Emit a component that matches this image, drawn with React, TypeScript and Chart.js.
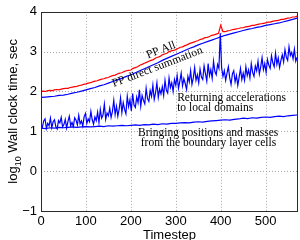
import { useEffect, useRef } from "react";
import { Chart, registerables } from "chart.js";

Chart.register(...registerables);

const xTicks = [0, 100, 200, 300, 400, 500];
const yTicks = [-1, 0, 1, 2, 3, 4];

// PP All (red), sampled every 5 timesteps
const ppAllStep = 5;
const ppAll = [
  2.0, 2.01, 2.0, 2.02, 2.03, 2.02, 2.04, 2.05, 2.04, 2.06,
  2.07, 2.08, 2.08, 2.1, 2.11, 2.12, 2.13, 2.15, 2.16, 2.18,
  2.19, 2.21, 2.22, 2.24, 2.26, 2.27, 2.29, 2.31, 2.32, 2.34,
  2.35, 2.38, 2.4, 2.41, 2.44, 2.46, 2.47, 2.5, 2.52, 2.53,
  2.54, 2.58, 2.6, 2.62, 2.66, 2.68, 2.71, 2.73, 2.76, 2.78,
  2.8, 2.84, 2.86, 2.88, 2.92, 2.94, 2.96, 3.0, 3.02, 3.03,
  3.05, 3.08, 3.11, 3.12, 3.15, 3.17, 3.2, 3.22, 3.24, 3.26,
  3.28, 3.31, 3.32, 3.35, 3.36, 3.38, 3.41, 3.42, 3.44, 3.46,
  3.66, 3.5, 3.5, 3.52, 3.53, 3.55, 3.56, 3.57, 3.58, 3.6,
  3.6, 3.62, 3.63, 3.64, 3.66, 3.66, 3.68, 3.69, 3.7, 3.71,
  3.72, 3.74, 3.74, 3.76, 3.77, 3.78, 3.79, 3.81, 3.81, 3.83,
  3.84, 3.85, 3.87, 3.87, 3.89,
];

// PP direct summation (blue), every 10 timesteps
const ppDirectStep = 10;
const ppDirect = [
  1.85, 1.86, 1.87, 1.88, 1.9, 1.91, 1.93, 1.96, 1.98, 2.01,
  2.04, 2.07, 2.1, 2.14, 2.17, 2.21, 2.25, 2.29, 2.33, 2.38,
  2.42, 2.47, 2.52, 2.57, 2.62, 2.67, 2.72, 2.78, 2.83, 2.88,
  2.93, 2.98, 3.03, 3.08, 3.12, 3.17, 3.21, 3.25, 3.29, 3.33,
  3.37, 3.41, 3.44, 3.47, 3.5, 3.53, 3.56, 3.58, 3.61, 3.63,
  3.66, 3.68, 3.7, 3.72, 3.75, 3.78, 3.81, 3.84,
];

// Returning accelerations to local domains (blue, noisy), every 3 timesteps
const returningStep = 3;
const returning = [
  1.18, 1.1, 1.26, 1.31, 1.07, 1.2, 1.14, 1.33, 1.09, 1.24,
  1.29, 1.12, 1.06, 1.27, 1.21, 1.35, 1.11, 1.17, 1.3, 1.08,
  1.25, 1.38, 1.14, 1.22, 1.12, 1.34, 1.28, 1.16, 1.4, 1.19,
  1.26, 1.13, 1.37, 1.45, 1.2, 1.31, 1.24, 1.5, 1.29, 1.18,
  1.36, 1.27, 1.48, 1.22, 1.55, 1.33, 1.41, 1.68, 1.3, 1.46,
  1.39, 1.58, 1.35, 1.5, 1.78, 1.42, 1.63, 1.38, 1.56, 1.84,
  1.47, 1.72, 1.55, 1.44, 1.88, 1.62, 1.79, 1.51, 1.95, 1.66,
  1.6, 1.86, 1.72, 2.04, 1.63, 1.9, 1.78, 1.69, 2.08, 1.82,
  1.75, 2.02, 1.88, 2.16, 1.8, 1.97, 2.22, 1.85, 2.06, 1.94,
  2.12, 1.9, 2.28, 2.03, 1.96, 2.34, 2.1, 2.22, 2.0, 2.3,
  2.16, 2.4, 2.08, 2.26, 2.46, 2.14, 2.32, 2.2, 2.05, 2.38,
  2.24, 2.52, 2.18, 2.34, 2.6, 2.28, 2.42, 2.22, 2.56, 2.36,
  2.3, 2.64, 2.45, 2.26, 2.7, 2.4, 2.55, 2.33, 2.76, 2.5,
  2.42, 2.68, 2.58, 3.46, 2.6, 2.38, 2.52, 2.28, 2.46, 2.62,
  2.34, 2.18, 2.44, 2.52, 2.24, 2.4, 2.15, 2.36, 2.58, 2.3,
  2.46, 2.28, 2.62, 2.4, 2.54, 2.34, 2.7, 2.48, 2.38, 2.64,
  2.52, 2.76, 2.44, 2.62, 2.85, 2.55, 2.7, 2.48, 2.8, 2.66,
  2.58, 2.9, 2.72, 2.62, 2.96, 2.68, 2.84, 2.6, 2.78, 2.92,
  2.74, 3.05, 2.86, 2.78, 3.12, 2.9, 2.98, 2.82, 3.06, 2.76,
  2.86,
];

// Bringing positions and masses from the boundary layer cells (blue), every 10 timesteps
const bringingStep = 10;
const bringing = [
  1.08, 1.07, 1.09, 1.08, 1.1, 1.09, 1.1, 1.11, 1.1, 1.11,
  1.12, 1.11, 1.12, 1.13, 1.12, 1.14, 1.13, 1.14, 1.15, 1.14,
  1.15, 1.16, 1.15, 1.17, 1.16, 1.18, 1.17, 1.19, 1.18, 1.2,
  1.2, 1.21, 1.22, 1.21, 1.23, 1.24, 1.23, 1.25, 1.26, 1.27,
  1.28, 1.29, 1.28, 1.3, 1.31, 1.33, 1.32, 1.34, 1.33, 1.35,
  1.36, 1.35, 1.37, 1.38, 1.37, 1.39, 1.4, 1.41,
];

const toPoints = (vals: number[], step: number) =>
  vals.map((v, i) => ({ x: i * step, y: v }));

const SANS = '"Liberation Sans", Arial, Helvetica, sans-serif';
const SERIF = '"Liberation Serif", "Times New Roman", Times, serif';

const gridPlugin = {
  id: "dotgrid",
  beforeDatasetsDraw(chart: any) {
    const { ctx, chartArea: a, scales } = chart;
    ctx.save();
    ctx.strokeStyle = "#a8a8a8";
    ctx.lineWidth = 1;
    ctx.setLineDash([1, 2]);
    for (const v of xTicks) {
      const px = Math.round(scales.x.getPixelForValue(v)) + 0.5;
      if (px <= a.left + 1 || px >= a.right - 1) continue;
      ctx.beginPath();
      ctx.moveTo(px, a.top);
      ctx.lineTo(px, a.bottom);
      ctx.stroke();
    }
    for (const v of yTicks) {
      const py = Math.round(scales.y.getPixelForValue(v)) + 0.5;
      if (py <= a.top + 1 || py >= a.bottom - 1) continue;
      ctx.beginPath();
      ctx.moveTo(a.left, py);
      ctx.lineTo(a.right, py);
      ctx.stroke();
    }
    ctx.restore();
  },
};

const annotPlugin = {
  id: "annot",
  afterDraw(chart: any) {
    const { ctx, chartArea: a, scales } = chart;
    const xs = scales.x;
    const ys = scales.y;
    ctx.save();
    // box
    ctx.setLineDash([]);
    ctx.strokeStyle = "#2a2a2a";
    ctx.lineWidth = 1;
    const l = Math.round(a.left) + 0.5;
    const t = Math.round(a.top) + 0.5;
    const r = Math.round(a.right) - 0.5;
    const b = Math.round(a.bottom) + 0.5;
    ctx.strokeRect(l, t, r - l, b - t);

    // y title with subscript
    ctx.save();
    ctx.translate(17, (a.top + a.bottom) / 2);
    ctx.rotate(-Math.PI / 2);
    ctx.fillStyle = "#000";
    ctx.textBaseline = "alphabetic";
    const big = `13px ${SANS}`;
    const small = `9px ${SANS}`;
    ctx.font = big;
    const w1 = ctx.measureText("log").width;
    const w3 = ctx.measureText(" Wall clock time, sec").width;
    ctx.font = small;
    const w2 = ctx.measureText("10").width;
    const x0 = -(w1 + w2 + w3) / 2;
    ctx.font = big;
    ctx.textAlign = "left";
    ctx.fillText("log", x0, 0);
    ctx.font = small;
    ctx.fillText("10", x0 + w1, 4);
    ctx.font = big;
    ctx.fillText(" Wall clock time, sec", x0 + w1 + w2, 0);
    ctx.restore();

    // x title
    ctx.fillStyle = "#000";
    ctx.font = `13px ${SANS}`;
    ctx.textAlign = "center";
    ctx.textBaseline = "alphabetic";
    ctx.fillText("Timestep", (a.left + a.right) / 2, 239);

    // annotations
    ctx.font = `11.5px ${SERIF}`;
    ctx.textAlign = "left";
    const rotText = (txt: string, tx: number, vy: number, ang: number) => {
      ctx.save();
      ctx.translate(xs.getPixelForValue(tx), ys.getPixelForValue(vy));
      ctx.rotate(ang);
      ctx.fillText(txt, 0, 0);
      ctx.restore();
    };
    const ang = (-21 * Math.PI) / 180;
    rotText("PP All", 238, 2.83, ang);
    rotText("PP direct summation", 162, 2.11, ang);
    rotText("Returning accelerations", 303, 1.76, 0);
    rotText("to local domains", 303, 1.52, 0);
    rotText("Bringing positions and masses", 216, 0.89, 0);
    rotText("from the boundary layer cells", 222, 0.63, 0);
    ctx.restore();
  },
};

export default function App() {
  const ref = useRef<HTMLCanvasElement | null>(null);
  useEffect(() => {
    if (!ref.current) return;
    const tickFont = { family: SANS, size: 13 };
    const chart = new Chart(ref.current, {
      type: "line",
      data: {
        datasets: [
          {
            label: "Returning accelerations",
            data: toPoints(returning, returningStep),
            borderColor: "#0000ff",
            borderWidth: 1.2,
          },
          {
            label: "PP All",
            data: toPoints(ppAll, ppAllStep),
            borderColor: "#ff0000",
            borderWidth: 1.2,
          },
          {
            label: "PP direct summation",
            data: toPoints(ppDirect, ppDirectStep),
            borderColor: "#0000ff",
            borderWidth: 1.2,
          },
          {
            label: "Bringing positions",
            data: toPoints(bringing, bringingStep),
            borderColor: "#0000ff",
            borderWidth: 1.2,
          },
        ],
      },
      options: {
        animation: false,
        responsive: false,
        events: [],
        layout: { padding: { top: 10, right: 2, left: 0, bottom: 0 } },
        plugins: { legend: { display: false }, tooltip: { enabled: false } },
        elements: { point: { radius: 0 }, line: { tension: 0 } },
        scales: {
          x: {
            type: "linear",
            min: 0,
            max: 572,
            afterBuildTicks: (s: any) => {
              s.ticks = xTicks.map((v) => ({ value: v }));
            },
            afterFit: (s: any) => {
              s.height = 29;
            },
            ticks: { font: tickFont, color: "#000", padding: 3, maxRotation: 0, autoSkip: false },
            grid: { display: false, drawTicks: false },
            border: { display: false },
          },
          y: {
            type: "linear",
            min: -1,
            max: 4,
            afterBuildTicks: (s: any) => {
              s.ticks = yTicks.map((v) => ({ value: v }));
            },
            afterFit: (s: any) => {
              s.width = 41;
            },
            ticks: {
              font: tickFont,
              color: "#000",
              padding: 4,
              autoSkip: false,
              callback: (v: any) => (Number(v) < 0 ? "\u2212" + Math.abs(Number(v)) : String(v)),
            },
            grid: { display: false, drawTicks: false },
            border: { display: false },
          },
        },
      },
      plugins: [gridPlugin, annotPlugin],
    });
    return () => chart.destroy();
  }, []);
  return (
    <div style={{ position: "fixed", left: 0, top: 0, width: 300, height: 240, background: "#fff" }}>
      <canvas ref={ref} width={300} height={240} style={{ width: 300, height: 240, display: "block" }} />
    </div>
  );
}
